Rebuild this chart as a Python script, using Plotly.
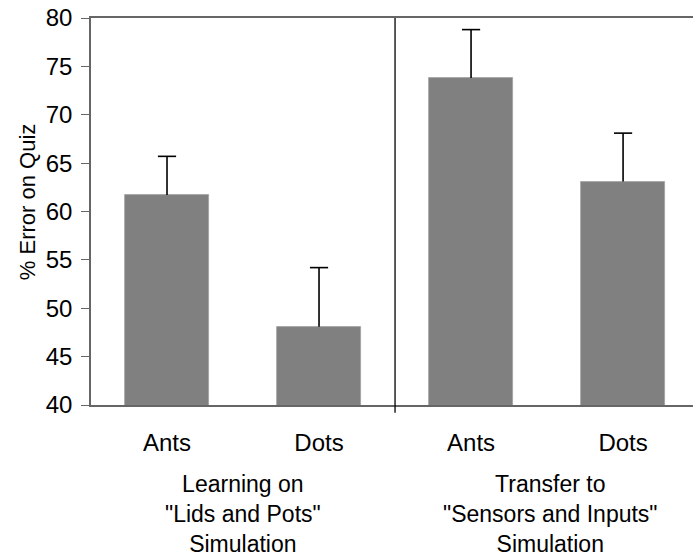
import plotly.graph_objects as go

# Data
categories = ["Ants", "Dots", "Ants", "Dots"]
x_pos = [0, 1, 2, 3]
means = [61.7, 48.1, 73.8, 63.1]
errors = [4.0, 6.1, 5.0, 5.0]
group_labels = ["Learning on<br>\"Lids and Pots\"<br>Simulation",
                "Transfer to<br>\"Sensors and Inputs\"<br>Simulation"]
group_x = [0.5, 2.52]
y_ticks = [40, 45, 50, 55, 60, 65, 70, 75, 80]
y_title = "% Error on Quiz"

FONT = "Liberation Sans, Arial, sans-serif"

fig = go.Figure()
fig.add_trace(go.Bar(
    x=x_pos, y=means, width=0.553,
    marker=dict(color="#808080", line=dict(color="#a0a0a0", width=0.8)),
    showlegend=False, hoverinfo="skip",
))
tops = [m + e for m, e in zip(means, errors)]
fig.add_trace(go.Scatter(
    x=x_pos, y=tops, mode="markers",
    marker=dict(symbol="line-ew", size=13, color="black",
                line=dict(color="black", width=1.6)),
    error_y=dict(type="data", symmetric=False, array=[0]*4, arrayminus=errors,
                 width=0, thickness=1.6, color="black"),
    showlegend=False, hoverinfo="skip",
))

# divider between groups
fig.add_shape(type="line", xref="x", yref="paper", x0=1.5, x1=1.5,
              y0=-0.02, y1=1, line=dict(color="black", width=1.3))

for gx, gl in zip(group_x, group_labels):
    fig.add_annotation(x=gx, xref="x", y=0, yref="paper", yanchor="top",
                       yshift=-64, text=gl, showarrow=False,
                       font=dict(family=FONT, size=23, color="black"))

fig.add_annotation(x=-0.106, xref="paper", y=0.5245, yref="paper",
                   xanchor="center", yanchor="middle", textangle=-90,
                   text=y_title, showarrow=False,
                   font=dict(family=FONT, size=22, color="black"))

fig.update_layout(
    width=693, height=558,
    margin=dict(l=91, r=0, t=18, b=153),
    paper_bgcolor="white", plot_bgcolor="white",
    font=dict(family=FONT, size=22, color="black"),
    bargap=0,
)
fig.update_xaxes(
    range=[-0.5, 3.46], tickmode="array", tickvals=x_pos, ticktext=categories,
    showline=True, mirror=True, linecolor="#666666", linewidth=1.6,
    ticks="", showgrid=False, zeroline=False, ticklabelstandoff=15,
    tickfont=dict(family=FONT, size=24, color="black"),
)
fig.update_yaxes(
    range=[40, 80], tickmode="array", tickvals=y_ticks,
    showline=True, linecolor="#666666", linewidth=1.6,
    ticks="outside", ticklen=8, tickcolor="#666666", tickwidth=1.3,
    showgrid=False, zeroline=False, ticklabelstandoff=4,
    tickfont=dict(family=FONT, size=24, color="black"),
)

fig.write_html("out.html")
